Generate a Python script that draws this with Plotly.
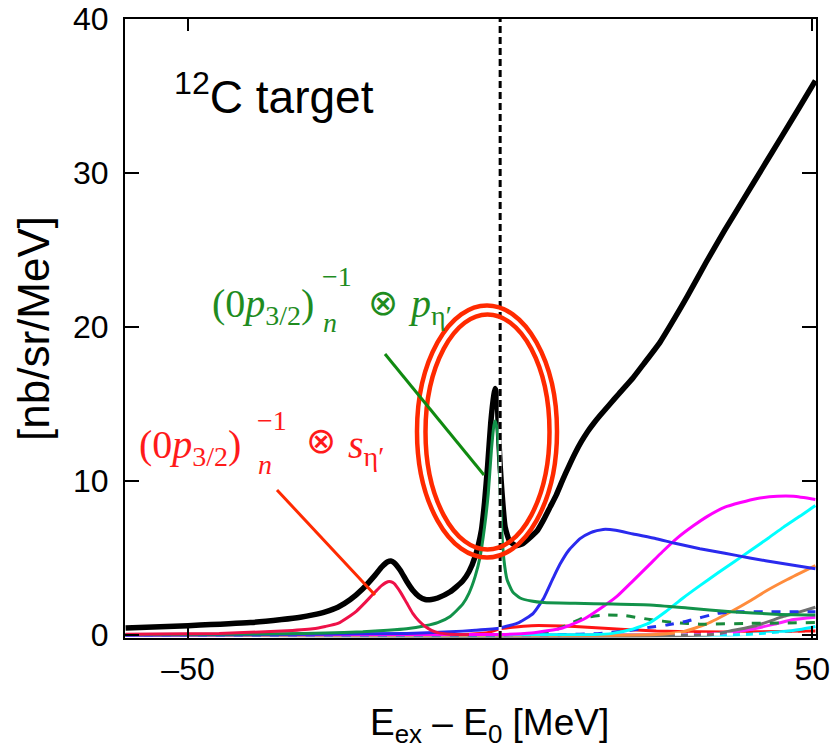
import plotly.graph_objects as go

# ---------------- data ----------------
total_x = [-60, -50, -40, -35, -32, -30, -28, -26, -24, -22, -20, -19, -18, -17.5, -17, -16, -15, -14, -13, -12,
           -11, -10, -8, -6, -5, -4, -3, -2.5, -2, -1.5, -1, -0.8, -0.5, -0.3, 0, 0.3, 0.8, 1.5, 2.5, 3.5, 5,
           6, 7, 8, 9, 10, 11, 12, 13, 14, 15, 16, 17.6, 19, 21.3, 23, 25.6, 28, 30, 33, 36, 39, 42, 45, 48, 50.5]
total_y = [0.45, 0.6, 0.8, 1.0, 1.15, 1.3, 1.5, 1.8, 2.3, 3.0, 3.9, 4.4, 4.75, 4.8, 4.7, 4.2, 3.5, 2.9, 2.5, 2.3,
           2.3, 2.4, 2.8, 3.5, 4.1, 5.1, 6.8, 8.6, 11.0, 13.8, 15.6, 16.0, 15.5, 13.5, 11.0, 9.2, 7.0, 6.1, 5.8,
           5.9, 6.4, 6.8, 7.5, 8.3, 9.1, 10.05, 10.95, 11.8, 12.55, 13.2, 13.75, 14.25, 15.0, 15.65, 16.7, 17.6,
           19.0, 20.6, 22.0, 24.2, 26.3, 28.3, 30.3, 32.3, 34.3, 36.0]

s_state_x = [-60, -45, -35, -30, -28, -26, -24, -23, -22, -20, -19, -18, -17.5, -17, -16, -15, -14, -13, -12,
             -11, -10, -8, -5]
s_state_y = [0.05, 0.1, 0.25, 0.4, 0.55, 0.75, 1.25, 1.55, 1.95, 2.8, 3.2, 3.45, 3.45, 3.35, 2.8, 2.1, 1.4, 0.9,
             0.55, 0.3, 0.15, 0.05, 0.02]

p_state_x = [-60, -45, -35, -28, -22, -18, -15, -12, -10, -8, -6, -5, -4, -3.2, -2.5, -1.9, -1.4, -1, -0.8,
             -0.5, -0.2, 0, 0.3, 0.6, 1.1, 2, 3.2, 5, 7, 12, 18, 24, 30, 37, 44, 50.5]
p_state_y = [0.03, 0.05, 0.08, 0.12, 0.2, 0.3, 0.4, 0.6, 0.8, 1.2, 2.0, 2.7, 3.8, 5.1, 7.0, 9.2, 12.0, 13.6, 13.9,
             13.4, 11.5, 9.2, 6.5, 4.9, 3.6, 2.8, 2.4, 2.2, 2.1, 2.05, 2.0, 1.95, 1.75, 1.5, 1.35, 1.3]

blue_x = [-60, -30, -15, -8, -4, 0, 3, 5.3, 7, 8.5, 9.6, 11, 12.8, 14.5, 16.5, 18.5, 21.3, 25, 28, 32, 36, 40, 45, 50.5]
blue_y = [0.0, 0.05, 0.1, 0.2, 0.3, 0.45, 0.8, 1.4, 2.4, 3.7, 4.6, 5.5, 6.25, 6.65, 6.85, 6.8, 6.55, 6.25, 5.95,
          5.6, 5.3, 5.0, 4.65, 4.3]

magenta_x = [-60, 0, 5, 10, 13.3, 16, 18.7, 21, 24, 26, 28.4, 31, 33.2, 36, 38.5, 41, 44.4, 47, 50.5]
magenta_y = [0.0, 0.03, 0.12, 0.45, 1.0, 1.7, 2.5, 3.4, 4.6, 5.4, 6.3, 7.1, 7.7, 8.3, 8.6, 8.85, 9.0, 9.0, 8.8]

cyan_x = [-60, 15, 18, 21, 24, 26.5, 29.3, 32, 34.8, 37.5, 40, 43, 45.4, 48, 50.5]
cyan_y = [0.0, 0.02, 0.1, 0.35, 0.8, 1.5, 2.4, 3.2, 4.0, 4.75, 5.45, 6.3, 7.0, 7.7, 8.4]

orange_x = [-60, 25, 29.3, 33, 37.4, 40, 42.8, 46, 50.5]
orange_y = [0.0, 0.02, 0.2, 0.7, 1.6, 2.2, 2.9, 3.6, 4.5]

gray_x = [-60, 34, 37.4, 41, 45.4, 48, 50.5]
gray_y = [0.0, 0.02, 0.3, 0.6, 1.2, 1.5, 1.8]

green_dash_x = [-60, 0, 4, 8, 10.5, 13.3, 17, 20, 24, 28, 32, 40, 50.5]
green_dash_y = [0.0, 0.02, 0.05, 0.2, 0.6, 1.1, 1.3, 1.25, 1.0, 0.8, 0.7, 0.75, 0.8]

blue_dash_x = [-60, 10, 16, 20, 24, 26.7, 30, 34.8, 38, 42.8, 50.5]
blue_dash_y = [0.0, 0.02, 0.1, 0.25, 0.5, 0.65, 0.9, 1.4, 1.5, 1.5, 1.5]

red_small_x = [-60, -10, -5, -2, 0, 2, 5, 8, 12, 16, 20, 25, 32, 40, 50.5]
red_small_y = [0.0, 0.0, 0.05, 0.15, 0.4, 0.5, 0.6, 0.6, 0.55, 0.45, 0.35, 0.25, 0.2, 0.2, 0.25]

magenta_small_x = [-60, 30, 35, 40, 44, 47, 50.5]
magenta_small_y = [0.0, 0.0, 0.1, 0.35, 0.7, 1.0, 1.15]

cyan_small_x = [-60, 35, 40, 45, 48, 50.5]
cyan_small_y = [0.0, 0.0, 0.05, 0.2, 0.35, 0.55]

white_dash_x = [28, 50.5]
white_dash_y = [0.05, 0.05]

THRESHOLD = 0
x_ticks = [-50, 0, 50]
x_tick_text = ["\u201350", "0", "50"]
y_ticks = [0, 10, 20, 30, 40]

# ---------------- geometry (screen pixels) ----------------
W, H = 830, 752
P_LEFT, P_RIGHT, P_TOP, P_BOT = 125, 816, 19, 638
L, T, R, B = P_LEFT, P_TOP, W - P_RIGHT, H - P_BOT
PW, PH = P_RIGHT - P_LEFT, P_BOT - P_TOP


def px(xp):
    return (xp - P_LEFT) / PW


def py(yp):
    return (P_BOT - yp) / PH


fig = go.Figure()


def add(x, y, color, width=3, dash="solid", smooth=0.5):
    fig.add_trace(go.Scatter(x=x, y=y, mode="lines",
                             line=dict(color=color, width=width, dash=dash, shape="spline", smoothing=smooth),
                             showlegend=False, hoverinfo="skip"))


add(total_x, total_y, "#000000", width=5.5, smooth=0.5)
add(red_small_x, red_small_y, "#ff1414", 3)
add(cyan_small_x, cyan_small_y, "#00f0ff", 3)
add(magenta_small_x, magenta_small_y, "#ff20ff", 3)
add(gray_x, gray_y, "#707070", 3)
add(orange_x, orange_y, "#ff8c3c", 3)
add(green_dash_x, green_dash_y, "#188a3c", 3, "dash")
add(blue_dash_x, blue_dash_y, "#2233ee", 3, "dash")
add(cyan_x, cyan_y, "#00ffff", 3)
add(magenta_x, magenta_y, "#ff00ff", 3)
add(blue_x, blue_y, "#2a2aee", 3)
add(p_state_x, p_state_y, "#12924a", 3)
add(s_state_x, s_state_y, "#ee1148", 3)
add(white_dash_x, white_dash_y, "#ffffff", 3, "6px,7px")

sans = "Liberation Sans, Arial, sans-serif"
axis_font = dict(family=sans, size=32, color="black")

fig.update_xaxes(range=[-60.1, 50.6], tickvals=x_ticks, ticktext=x_tick_text,
                 ticks="inside", ticklen=12, tickwidth=1.5, tickcolor="black",
                 showline=True, linecolor="black", linewidth=2, mirror="ticks",
                 showgrid=False, zeroline=False, tickfont=axis_font, ticklabelstandoff=2,
                 ticklabeloverflow="allow")
fig.update_yaxes(range=[-0.2, 40], tickvals=y_ticks,
                 ticks="inside", ticklen=14, tickwidth=1.5, tickcolor="black",
                 showline=True, linecolor="black", linewidth=2, mirror="ticks",
                 showgrid=False, zeroline=False, tickfont=axis_font, ticklabelstandoff=8,
                 ticklabeloverflow="allow",
                 title=dict(text="[nb/sr/MeV]", font=dict(family=sans, size=44, color="black"),
                            standoff=10))

shapes = []
# threshold dashed line
shapes.append(dict(type="line", xref="x", yref="paper", x0=THRESHOLD, x1=THRESHOLD, y0=0, y1=1,
                   line=dict(color="white", width=3)))
shapes.append(dict(type="line", xref="x", yref="paper", x0=THRESHOLD, x1=THRESHOLD, y0=0, y1=1,
                   line=dict(color="black", width=3, dash="7px,4px")))
# double ellipse
ell = "#ff2a00"
shapes.append(dict(type="circle", xref="paper", yref="paper", x0=px(417), x1=px(557), y0=py(557.5), y1=py(305.5),
                   line=dict(color=ell, width=4.5)))
shapes.append(dict(type="circle", xref="paper", yref="paper", x0=px(425.5), x1=px(549.5), y0=py(549.5), y1=py(314.5),
                   line=dict(color=ell, width=4.5)))
# pointer lines
shapes.append(dict(type="line", xref="paper", yref="paper", x0=px(385), y0=py(354), x1=px(484), y1=py(475),
                   line=dict(color="#108a10", width=3)))
shapes.append(dict(type="line", xref="paper", yref="paper", x0=px(277), y0=py(490), x1=px(375), y1=py(595),
                   line=dict(color="#ff2a00", width=3)))
fig.update_layout(shapes=shapes)

mfont = "Liberation Serif, DejaVu Serif, serif"
ann = []


def txt(text, xp, yp, xanchor, size, color, family=mfont):
    ann.append(dict(text=text, xref="paper", yref="paper", x=px(xp), y=py(yp), xanchor=xanchor, yanchor="middle",
                    showarrow=False, font=dict(family=family, size=size, color=color)))


green_t = "#1f8c1f"
red_t = "#ff1a1a"
# green label
txt("(0<i>p</i><sub>3/2</sub>)", 316, 306, "right", 40, green_t)
txt("<i>n</i>", 321, 322, "left", 28, green_t)
txt("\u22121", 320, 276, "left", 28, green_t)
txt("\u2297", 366, 302, "left", 36, green_t, family="DejaVu Sans")
txt("<i>p</i><sub>\u03b7\u2032</sub>", 406, 306, "left", 40, green_t)
# red label
txt("(0<i>p</i><sub>3/2</sub>)", 243, 447, "right", 40, red_t)
txt("<i>n</i>", 256, 464, "left", 28, red_t)
txt("\u22121", 255, 420, "left", 28, red_t)
txt("\u2297", 304, 440, "left", 36, red_t, family="DejaVu Sans")
txt("<i>s</i><sub>\u03b7\u2032</sub>", 346, 447, "left", 40, red_t)
# target label
txt("<sup>12</sup>C target", 172, 94, "left", 46, "black", family=sans)
# x-axis title
txt("E<sub>ex</sub> \u2013 E<sub>0</sub> [MeV]", 489, 725, "center", 37, "black", family=sans)

fig.update_layout(annotations=ann, width=W, height=H,
                  margin=dict(l=L, r=R, t=T, b=B, autoexpand=False),
                  plot_bgcolor="white", paper_bgcolor="white")

fig.write_html("out.html", config={"displayModeBar": False},
               post_script="document.body.style.margin='0px';")
